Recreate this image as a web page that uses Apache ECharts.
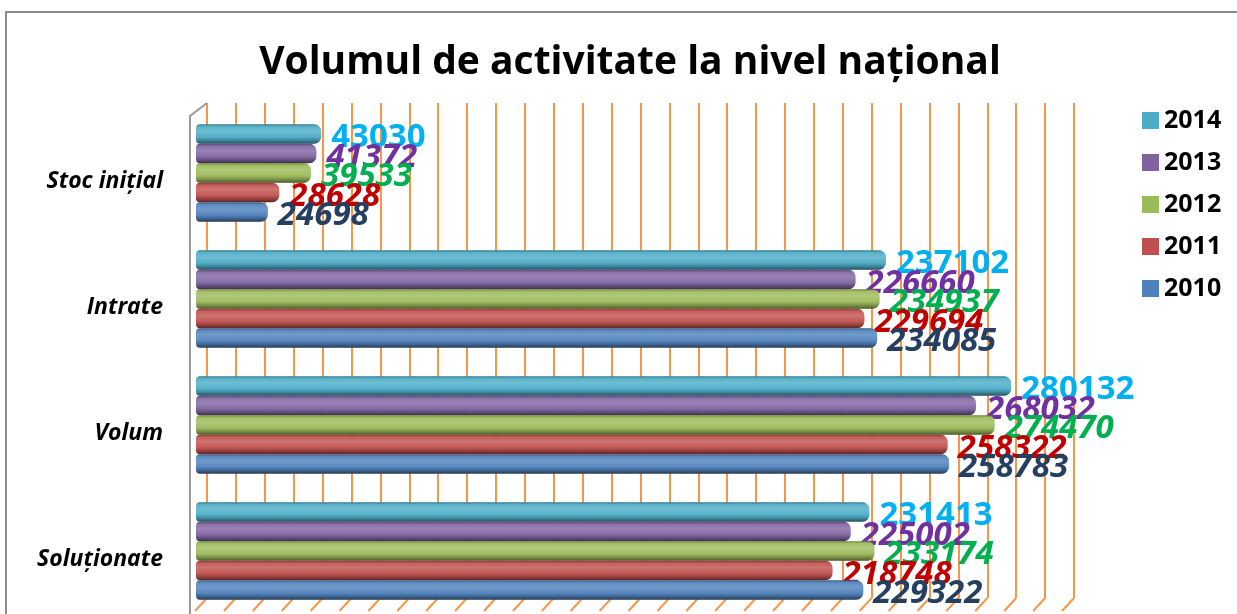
<!DOCTYPE html>
<html>
<head>
<meta charset="utf-8">
<script src="https://cdn.jsdelivr.net/npm/echarts@6/dist/echarts.min.js"></script>
<style>
html,body{margin:0;padding:0;background:#fff;}
#chart{width:1237px;height:614px;}
</style>
</head>
<body>
<div id="chart"></div>
<script>
// ---- data ----
const categories = ['Stoc inițial', 'Intrate', 'Volum', 'Soluționate'];
const years = ['2014', '2013', '2012', '2011', '2010'];
const v2014 = [43030, 237102, 280132, 231413];
const v2013 = [41372, 226660, 268032, 225002];
const v2012 = [39533, 234937, 274470, 233174];
const v2011 = [28628, 229694, 258322, 218748];
const v2010 = [24698, 234085, 258783, 229322];
const seriesValues = [v2014, v2013, v2012, v2011, v2010];
const axisMax = 300000;
const axisStep = 10000;

// ---- styles ----
const barColors = ['#4BACC6', '#8064A2', '#9BBB59', '#C0504D', '#4F81BD'];
const labelColors = ['#00B0F0', '#7030A0', '#00B050', '#C00000', '#243F60'];
const labelItalic = ['normal', 'italic', 'italic', 'italic', 'italic'];

function shade(hex, f) {
  const n = parseInt(hex.slice(1), 16);
  let r = (n >> 16) & 255, g = (n >> 8) & 255, b = n & 255;
  if (f >= 0) { r += (255 - r) * f; g += (255 - g) * f; b += (255 - b) * f; }
  else { r *= (1 + f); g *= (1 + f); b *= (1 + f); }
  return 'rgb(' + Math.round(r) + ',' + Math.round(g) + ',' + Math.round(b) + ')';
}
function cyl(hex) {
  return {
    type: 'linear', x: 0, y: 0, x2: 0, y2: 1,
    colorStops: [
      { offset: 0, color: shade(hex, -0.3) },
      { offset: 0.12, color: shade(hex, 0.08) },
      { offset: 0.35, color: shade(hex, 0.2) },
      { offset: 0.65, color: shade(hex, 0.05) },
      { offset: 0.88, color: shade(hex, -0.3) },
      { offset: 1, color: shade(hex, -0.55) }
    ]
  };
}

const chart = echarts.init(document.getElementById('chart'));

const series = years.map((y, i) => ({
  name: y,
  type: 'bar',
  xAxisIndex: 1,
  yAxisIndex: 1,
  barWidth: 19.5,
  barGap: '0%',
  data: seriesValues[i],
  itemStyle: {
    color: cyl(barColors[i]),
    borderRadius: [4, 7, 7, 4]
  },
  label: {
    show: true,
    position: 'right',
    distance: 10,
    offset: [0, 4],
    color: labelColors[i],
    fontFamily: 'Open Sans',
    fontWeight: 'bold',
    fontStyle: labelItalic[i],
    fontSize: 33
  },
  z: 3 + i
}));

// decoration: 3D wall/floor edges drawn relative to the back grid
series.push({
  type: 'custom',
  xAxisIndex: 0,
  yAxisIndex: 0,
  silent: true,
  clip: false,
  data: [[0, 0]],
  z: 1,
  renderItem: function (params, api) {
    const cs = params.coordSys;
    const children = [];
    const n = axisMax / axisStep;
    for (let i = 0; i <= n; i++) {
      const x = cs.x + cs.width * i / n;
      children.push({
        type: 'line',
        shape: { x1: x, y1: cs.y + cs.height, x2: x - 12, y2: cs.y + cs.height + 13 },
        style: { stroke: '#F79646', lineWidth: 2 }
      });
    }
    children.push({
      type: 'polyline',
      shape: { points: [[cs.x, cs.y], [cs.x - 17, cs.y + 13], [cs.x - 17, cs.y + cs.height + 40]] },
      style: { stroke: '#9a9a9a', lineWidth: 2, fill: null }
    });
    return { type: 'group', children: children };
  }
});

chart.setOption({
  backgroundColor: '#ffffff',
  animation: false,
  title: {
    text: 'Volumul de activitate la nivel național',
    left: 625,
    textAlign: 'center',
    top: 38,
    textStyle: {
      fontFamily: 'Open Sans',
      fontWeight: 'bold',
      fontSize: 39,
      color: '#000'
    }
  },
  legend: {
    data: years.map((y, i) => ({ name: y, itemStyle: { color: barColors[i] } })),
    orient: 'vertical',
    left: 1137,
    top: 103,
    itemWidth: 17,
    itemHeight: 17,
    itemGap: 17,
    icon: 'rect',
    textStyle: {
      fontFamily: 'Open Sans',
      fontWeight: 'bold',
      fontSize: 25,
      color: '#000'
    }
  },
  graphic: [{
    type: 'rect',
    shape: { x: 6, y: 12, width: 1400, height: 800 },
    style: { fill: null, stroke: '#8c8c8c', lineWidth: 2 },
    silent: true,
    z: -10
  }],
  grid: [
    { left: 207, right: 163, top: 103, bottom: 16 },
    { left: 196, right: 168, top: 110, bottom: 0 }
  ],
  xAxis: [
    {
      gridIndex: 0, type: 'value', min: 0, max: axisMax, interval: axisStep,
      axisLine: { show: false }, axisTick: { show: false }, axisLabel: { show: false },
      splitLine: { show: true, lineStyle: { color: '#F79646', width: 2 } }
    },
    {
      gridIndex: 1, type: 'value', min: 0, max: axisMax, interval: axisStep,
      show: false, splitLine: { show: false }
    }
  ],
  yAxis: [
    {
      gridIndex: 0, type: 'value', min: 0, max: 1, show: false, splitLine: { show: false }
    },
    {
      gridIndex: 1, type: 'category', data: categories, inverse: true,
      axisLine: { show: false }, axisTick: { show: false },
      axisLabel: {
        margin: 33,
        fontFamily: 'Open Sans',
        fontWeight: 'bold',
        fontStyle: 'italic',
        fontSize: 23,
        color: '#000',
        verticalAlign: 'top',
        lineHeight: 16
      }
    }
  ],
  series: series
});
</script>
</body>
</html>
